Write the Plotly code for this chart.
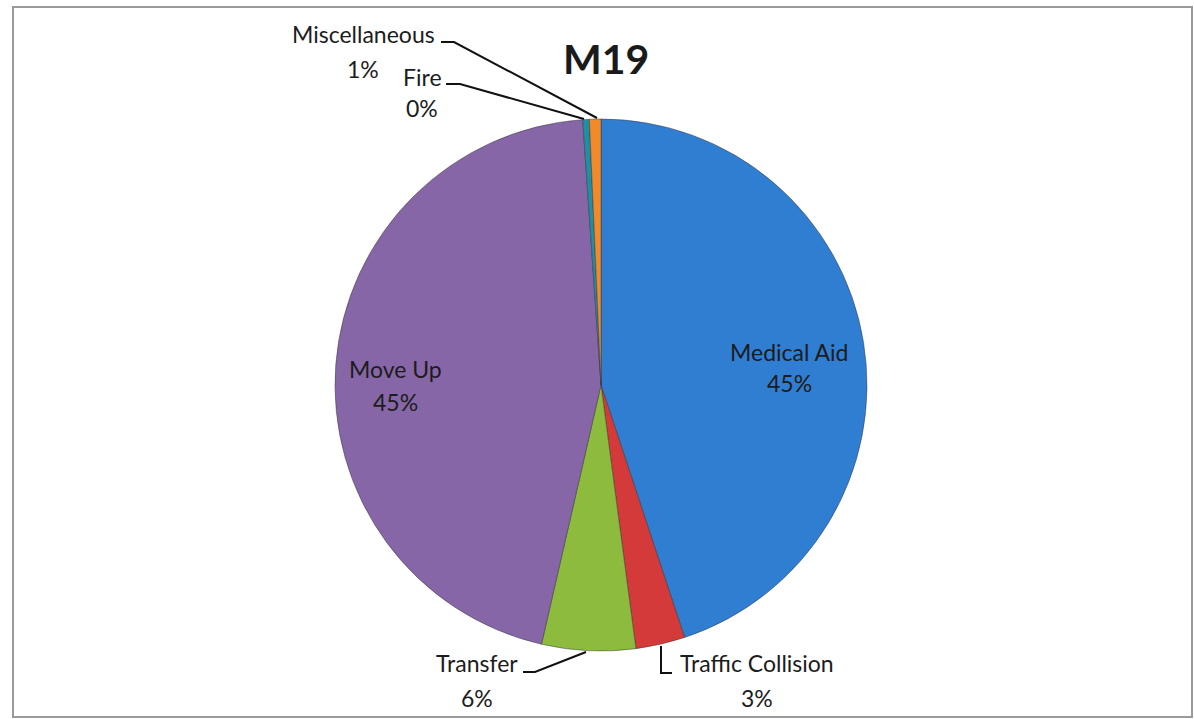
import plotly.graph_objects as go

# ---- data ----
categories = ["Medical Aid", "Traffic Collision", "Transfer", "Move Up", "Fire", "Miscellaneous"]
values = [45.0, 3.0, 5.7, 45.4, 0.4, 0.7]
colors = ["#2F7ED2", "#D43A3A", "#8DBB3E", "#8766A8", "#1F8FA8", "#F28A2A"]
title_text = "M19"

W, H = 1194, 719
# pie geometry (pixels)
cx, cy, r = 601, 385, 266

def px(x):
    return x / W

def py(y):
    return 1 - y / H

total = sum(values)
pcts = [f"{round(v / total * 100):.0f}%" for v in values]

fig = go.Figure()
fig.add_trace(go.Pie(
    labels=categories,
    values=values,
    sort=False,
    direction="clockwise",
    rotation=0,
    marker=dict(colors=colors, line=dict(color="rgba(50,50,50,0.6)", width=0.8)),
    textinfo="none",
    hoverinfo="label+percent",
    showlegend=False,
    domain=dict(x=[px(cx - r), px(cx + r)], y=[py(cy + r), py(cy - r)]),
))

# label positions (pixel centres for name line and percent line)
label_pos = {
    "Medical Aid": (789, 352, 383),
    "Traffic Collision": (757, 663, 698),
    "Transfer": (477, 663, 698),
    "Move Up": (395, 369, 402),
    "Fire": (422, 77, 108),
    "Miscellaneous": (363, 34, 69),
}

font_family = "Lato, 'Open Sans', sans-serif"
annotations = []
for cat, pct in zip(categories, pcts):
    x, y1, y2 = label_pos[cat]
    for txt, yy in ((cat, y1), (pct, y2)):
        annotations.append(dict(
            x=px(x), y=py(yy), xref="paper", yref="paper",
            text=txt, showarrow=False,
            font=dict(family=font_family, size=23, color="#1c1c1c"),
            xanchor="center", yanchor="middle",
        ))

annotations.append(dict(
    x=px(606), y=py(58), xref="paper", yref="paper",
    text=f"<b>{title_text}</b>", showarrow=False,
    font=dict(family=font_family, size=41, color="#1a1a1a"),
    xanchor="center", yanchor="middle",
))

def path(points):
    d = "M " + " L ".join(f"{px(x)},{py(y)}" for x, y in points)
    return dict(type="path", path=d, xref="paper", yref="paper",
                line=dict(color="#111111", width=2))

shapes = [
    # leader lines
    path([(441, 42), (454, 42), (597, 118)]),
    path([(446, 84), (460, 84), (584, 119)]),
    path([(523, 672), (535, 672), (586, 652)]),
    path([(661, 646), (661, 673), (672, 673)]),
    # chart frame
    dict(type="rect", xref="paper", yref="paper",
         x0=px(13), x1=px(1192), y0=py(717), y1=py(7),
         line=dict(color="#9a9a9a", width=2)),
]

fig.update_layout(
    width=W, height=H,
    margin=dict(l=0, r=0, t=0, b=0),
    paper_bgcolor="white",
    plot_bgcolor="white",
    annotations=annotations,
    shapes=shapes,
)

fig.write_html("out.html", config={"displayModeBar": False},
               post_script="document.body.style.margin='0px';")
